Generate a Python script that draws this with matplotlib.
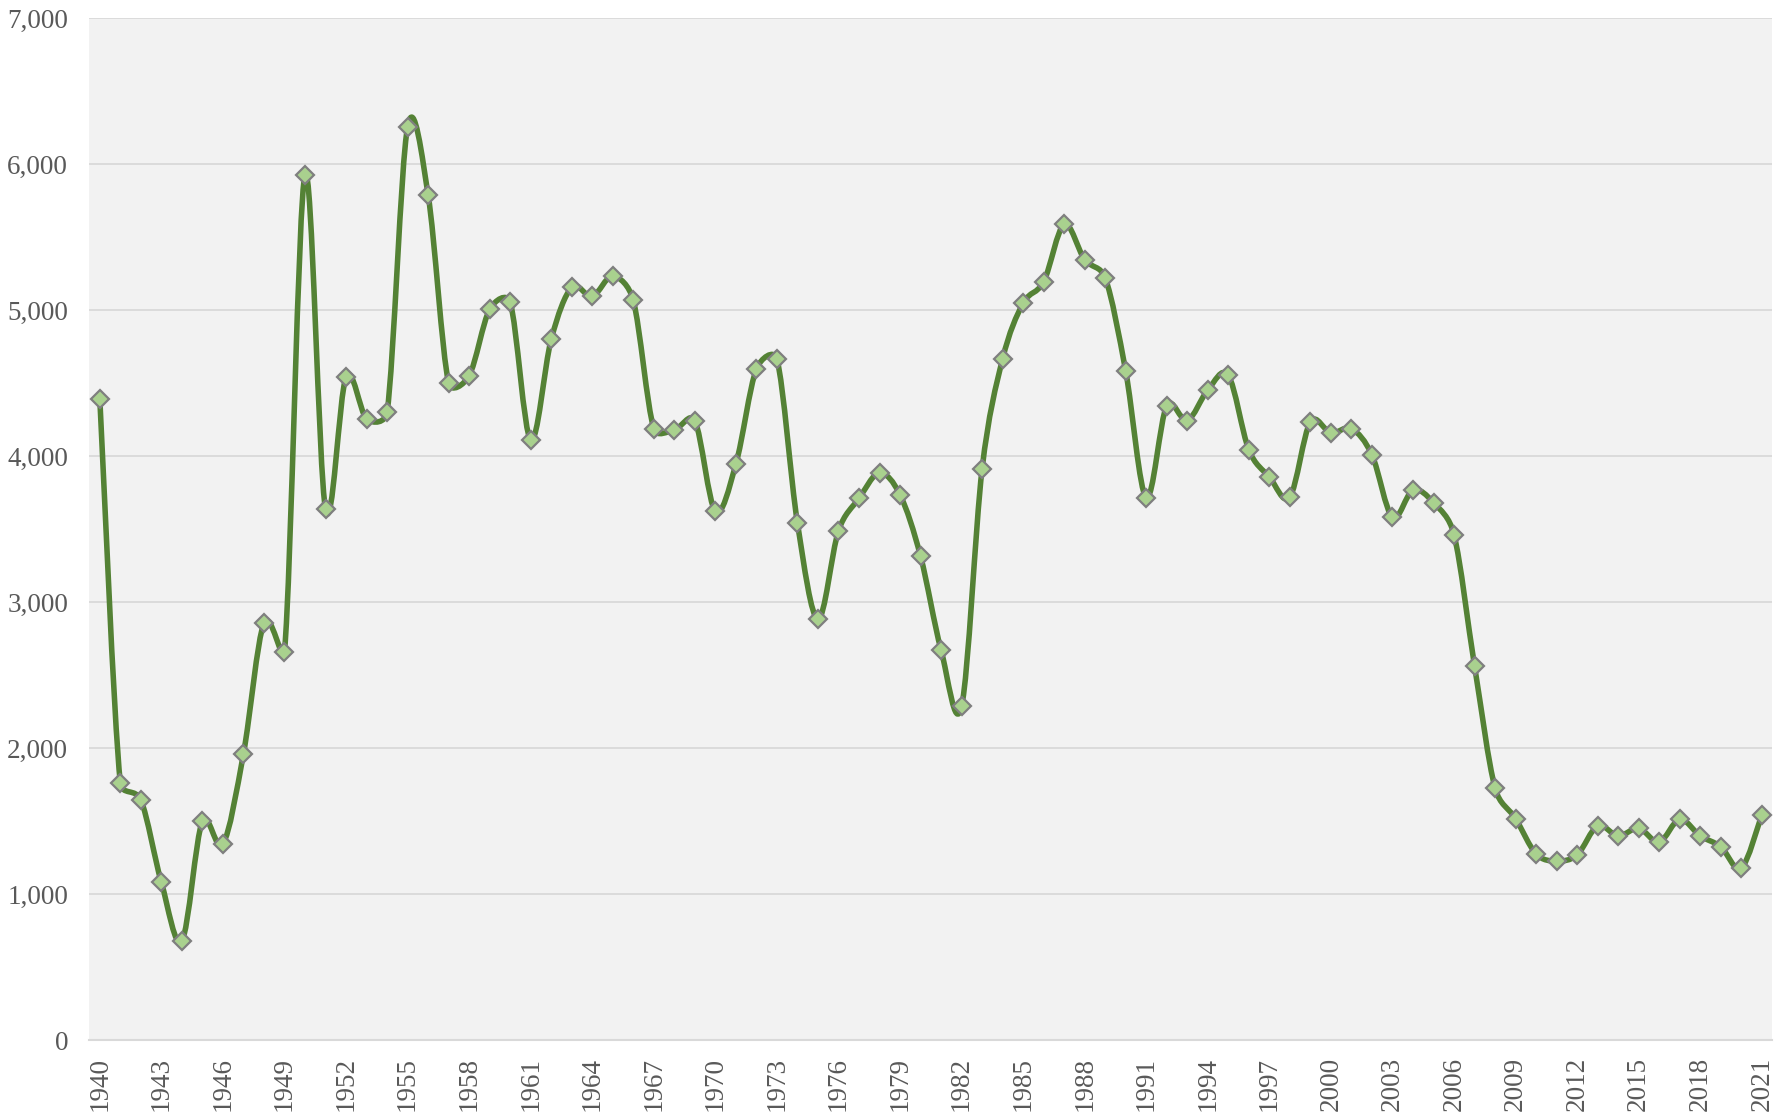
import numpy as np
import matplotlib as mpl
mpl.use('Agg')
import matplotlib.pyplot as plt
from matplotlib.path import Path
from matplotlib.patches import PathPatch
from matplotlib.ticker import FuncFormatter, MultipleLocator

plt.rcParams['font.family'] = ['Liberation Serif', 'DejaVu Serif']

years = list(range(1940, 2022))
values = [
    4390, 1760, 1645, 1080, 680, 1500, 1342, 1960, 2858, 2661,   # 1940s
    5928, 3637, 4540, 4255, 4300, 6255, 5788, 4500, 4550, 5005,  # 1950s
    5053, 4110, 4800, 5155, 5093, 5233, 5066, 4188, 4179, 4242,  # 1960s
    3621, 3945, 4597, 4664, 3541, 2883, 3488, 3710, 3884, 3735,  # 1970s
    3314, 2672, 2286, 3912, 4666, 5047, 5194, 5587, 5345, 5220,  # 1980s
    4580, 3715, 4346, 4243, 4452, 4552, 4042, 3857, 3720, 4235,  # 1990s
    4158, 4187, 4008, 3580, 3767, 3681, 3461, 2562, 1726, 1517,  # 2000s
    1275, 1226, 1268, 1467, 1398, 1450, 1356, 1512, 1398, 1324,  # 2010s
    1177, 1542,                                                  # 2020s
]
tick_years = years[::3]

LINE = '#548235'
FILL = '#A9D18E'
EDGE = '#7F7F7F'
GRID = '#D9D9D9'
TEXT = '#595959'


def ctrl(p, tangent, seg_len):
    # tangent/6, but never longer than half the segment
    off = tangent / 6
    n = np.hypot(*off)
    if n > seg_len / 2 and n > 0:
        off = off * (seg_len / 2) / n
    return off


def smooth_path(ax, x, y):
    # excel-like smoothed line, worked out in pixel space
    pts = ax.transData.transform(np.column_stack([x, y]))
    n = len(pts)
    verts = [pts[0]]
    codes = [Path.MOVETO]
    for i in range(n - 1):
        p0 = pts[max(i - 1, 0)]
        p1, p2 = pts[i], pts[i + 1]
        p3 = pts[min(i + 2, n - 1)]
        d12 = np.hypot(*(p2 - p1))
        c1 = p1 + ctrl(p1, p2 - p0, d12)
        c2 = p2 - ctrl(p2, p3 - p1, d12)
        verts += [c1, c2, p2]
        codes += [Path.CURVE4] * 3
    verts = ax.transData.inverted().transform(np.array(verts))
    return Path(verts, codes)


fig = plt.figure(figsize=(17.86, 11.14), dpi=100)
ax = fig.add_axes([0.0498, 0.0664, 0.9424, 0.9174])
ax.set_facecolor('#F2F2F2')

ax.set_xlim(1939.47, 2021.5)
ax.set_ylim(0, 7000)

ax.add_patch(PathPatch(smooth_path(ax, years, values), facecolor='none',
                       edgecolor=LINE, lw=4.0, capstyle='round',
                       joinstyle='round', zorder=3))
ax.plot(years, values, ls='none', marker='D', ms=9.5, mfc=FILL,
        mec=EDGE, mew=1.6, zorder=4)

ax.yaxis.set_major_locator(MultipleLocator(1000))
ax.yaxis.set_major_formatter(FuncFormatter(lambda v, p: f'{v:,.0f}'))
ax.set_xticks(tick_years)
ax.set_xticklabels([str(t) for t in tick_years], rotation=90)

ax.grid(axis='y', color=GRID, lw=1.3)
ax.set_axisbelow(True)
for s in ['top', 'right', 'left']:
    ax.spines[s].set_visible(False)
ax.spines['bottom'].set_color(GRID)
ax.spines['bottom'].set_linewidth(1.5)
ax.tick_params(axis='both', length=0, labelsize=19.5, colors=TEXT)
ax.tick_params(axis='y', pad=15)
ax.tick_params(axis='x', pad=12)

fig.savefig('out.png', dpi=100)
